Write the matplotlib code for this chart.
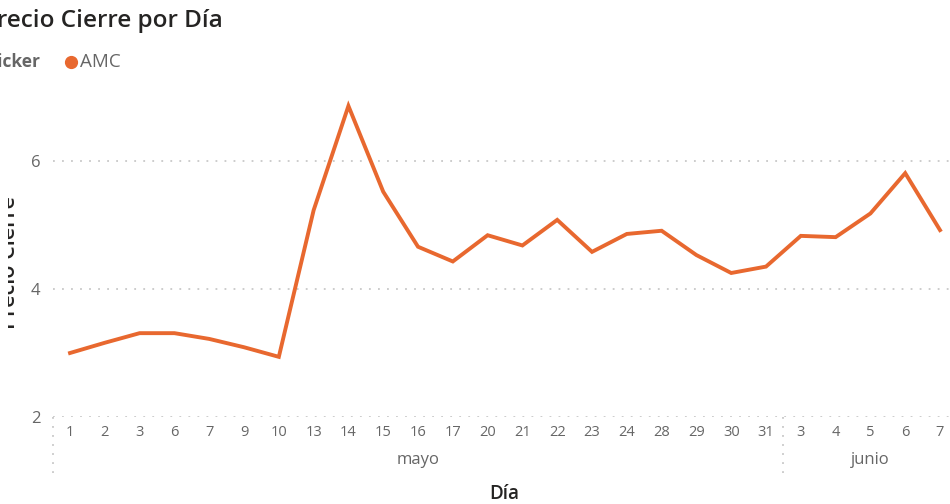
import numpy as np
import matplotlib.pyplot as plt
import matplotlib.transforms as mtransforms

# Daily closing price for AMC, May-June
days = ['1', '2', '3', '6', '7', '9', '10', '13', '14', '15', '16', '17',
        '20', '21', '22', '23', '24', '28', '29', '30', '31',
        '3', '4', '5', '6', '7']
months = ['mayo'] * 21 + ['junio'] * 5
close = [3.00, 3.16, 3.31, 3.31, 3.22, 3.09, 2.94, 5.23, 6.86, 5.52, 4.66,
         4.43, 4.84, 4.68, 5.08, 4.58, 4.86, 4.91, 4.53, 4.25, 4.35,
         4.83, 4.81, 5.18, 5.81, 4.92]
y_ticks = [2, 4, 6]

orange = '#E8682F'
grey = '#666666'
dark = '#252423'
dots = (0, (1, 4))

plt.rcParams['font.family'] = ['Open Sans', 'DejaVu Sans']

fig = plt.figure(figsize=(9.5, 5.04), dpi=100)
ax = fig.add_axes([0.0554, 0.1726, 0.9524, 0.635])

x = np.arange(len(close))
ax.plot(x, close, color=orange, lw=2.8, solid_joinstyle='miter')

ax.set_xlim(-0.5, len(close) - 0.5)
ax.set_ylim(2, 7.0)
ax.set_yticks(y_ticks)
ax.set_yticklabels([str(v) for v in y_ticks], color=grey, fontsize=12)
ax.set_xticks(x)
ax.set_xticklabels(days, color=grey, fontsize=10.5)
ax.tick_params(axis='both', length=0)
ax.tick_params(axis='y', pad=9)
ax.tick_params(axis='x', pad=6)

for s in ax.spines.values():
    s.set_visible(False)
ax.grid(axis='y', color='#C8C8C8', linestyle=dots, lw=1.3)

# month groups under the day labels
trans = mtransforms.blended_transform_factory(ax.transData, ax.transAxes)
names = []
for m in months:
    if m not in names:
        names.append(m)
for m in names:
    idx = [i for i, mm in enumerate(months) if mm == m]
    ax.text((idx[0] + idx[-1]) / 2, -0.135, m, transform=trans,
            ha='center', va='center', color=grey, fontsize=12)
    ax.plot([idx[0] - 0.5, idx[0] - 0.5], [0, -0.18], transform=trans,
            color='#C8C8C8', linestyle=dots, lw=1.3, clip_on=False)

fig.text(0.531, 0.02, 'Día', ha='center', va='center', color=dark,
         fontsize=13.5, fontweight='semibold')

# y title sits partly under the panel edge
ytitle = fig.text(0.021, 0.48, 'Precio Cierre', rotation=90, ha='right',
                  va='center', color=dark, fontsize=15.5,
                  fontweight='semibold')
ytitle.set_clip_box(mtransforms.TransformedBbox(
    mtransforms.Bbox([[0.0085, 0.0], [1.0, 1.0]]), fig.transFigure))

fig.text(-0.019, 0.958, 'Precio Cierre por Día', ha='left', va='center',
         color=dark, fontsize=17.5, fontweight='semibold')
fig.text(-0.013, 0.877, 'Ticker', ha='left', va='center', color=grey,
         fontsize=12.5, fontweight='bold')
fig.lines.append(plt.Line2D([0.0747], [0.877], marker='o', markersize=8.5,
                            color=orange, transform=fig.transFigure))
fig.text(0.084, 0.877, 'AMC', ha='left', va='center', color=grey,
         fontsize=13.5)

fig.savefig('out.png', dpi=100)
